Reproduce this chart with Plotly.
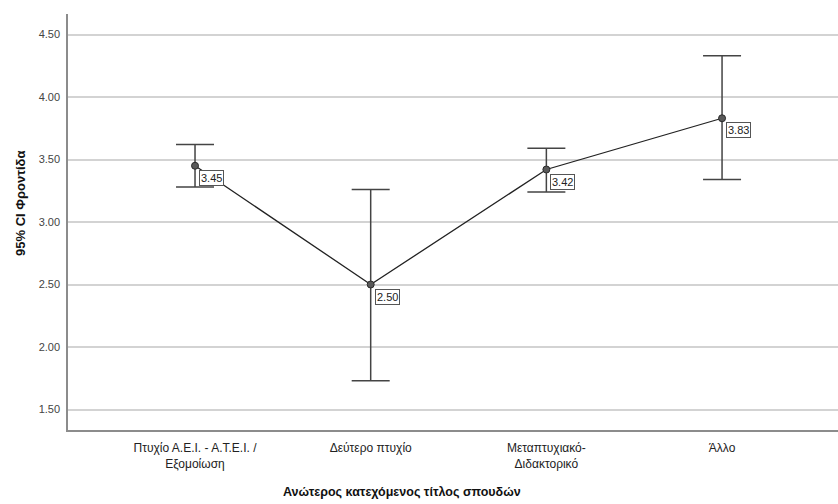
import plotly.graph_objects as go

# Education level categories (x axis)
categories = [
    "Πτυχίο Α.Ε.Ι. - Α.Τ.Ε.Ι. /<br>Εξομοίωση",
    "Δεύτερο πτυχίο",
    "Μεταπτυχιακό-<br>Διδακτορικό",
    "Άλλο",
]
# Group means and 95% confidence interval bounds
means = [3.45, 2.50, 3.42, 3.83]
ci_upper = [3.62, 3.26, 3.59, 4.33]
ci_lower = [3.28, 1.73, 3.24, 3.34]
# Y axis ticks
y_ticks = [1.5, 2.0, 2.5, 3.0, 3.5, 4.0, 4.5]

W, H = 838, 504
ML, MR, MT, MB = 68, 0, 14, 74

xpos = list(range(len(categories)))
err_plus = [u - m for u, m in zip(ci_upper, means)]
err_minus = [m - l for m, l in zip(means, ci_lower)]

fig = go.Figure()
fig.add_trace(go.Scatter(
    x=xpos, y=means,
    mode="lines+markers",
    line=dict(color="#222222", width=1.3),
    marker=dict(size=7, color="#595959", line=dict(color="#2a2a2a", width=1)),
    error_y=dict(type="data", symmetric=False, array=err_plus, arrayminus=err_minus,
                 color="#444444", thickness=1.5, width=19),
    hoverinfo="skip",
    showlegend=False,
))

# Value labels in small boxes beside each mean
for x, m in zip(xpos, means):
    fig.add_annotation(
        x=x, y=m, xref="x", yref="y",
        text=f"{m:.2f}", showarrow=False,
        xanchor="left", yanchor="top", xshift=4, yshift=-4,
        font=dict(family="Liberation Sans, Arial, sans-serif", size=11, color="#222222"),
        bgcolor="white", bordercolor="#555555", borderwidth=1, borderpad=1,
    )

plot_w = W - ML - MR
plot_h = H - MT - MB

# Axis titles
fig.add_annotation(
    text="<b>Ανώτερος κατεχόμενος τίτλος σπουδών</b>",
    xref="paper", yref="paper", x=(402 - ML) / plot_w, y=-(492 - (H - MB)) / plot_h,
    xanchor="center", yanchor="middle", showarrow=False,
    font=dict(family="Liberation Sans, Arial, sans-serif", size=12.5, color="#111111"),
)
fig.add_annotation(
    text="<b>95% CI Φροντίδα</b>",
    xref="paper", yref="paper", x=-(ML - 20) / plot_w, y=(H - MB - 204) / plot_h,
    xanchor="center", yanchor="middle", textangle=-90, showarrow=False,
    font=dict(family="Liberation Sans, Arial, sans-serif", size=13, color="#111111"),
)

fig.update_layout(
    width=W, height=H,
    margin=dict(l=ML, r=MR, t=MT, b=MB, pad=0),
    paper_bgcolor="white", plot_bgcolor="white",
    font=dict(family="Liberation Sans, Arial, sans-serif"),
    xaxis=dict(
        range=[-0.723, 3.66], tickvals=xpos, ticktext=categories,
        showgrid=False, zeroline=False, showline=True, linecolor="#8c8c8c", linewidth=1.5,
        ticks="", ticklabelstandoff=6,
        tickfont=dict(family="Liberation Sans, Arial, sans-serif", size=12, color="#222222"),
    ),
    yaxis=dict(
        range=[1.336, 4.664], tickvals=y_ticks, ticktext=[f"{v:.2f}" for v in y_ticks],
        showgrid=True, gridcolor="#d3d3d3", gridwidth=1.5, zeroline=False,
        showline=True, linecolor="#8c8c8c", linewidth=1.5,
        ticks="", tickfont=dict(size=11, color="#444444"), ticklabelstandoff=4,
    ),
)

fig.write_html("out.html")
